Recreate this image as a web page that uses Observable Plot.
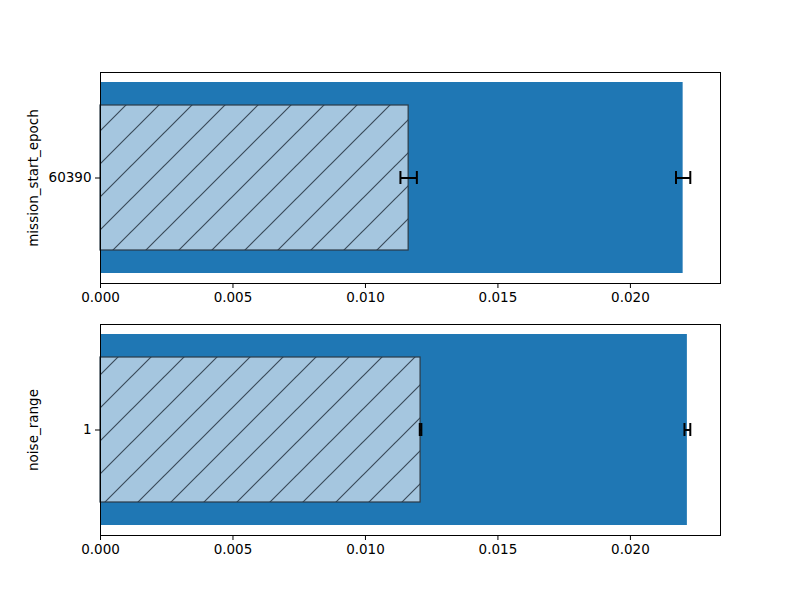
<!DOCTYPE html>
<html>
<head>
<meta charset="utf-8">
<script src="https://cdn.jsdelivr.net/npm/d3@7"></script>
<script src="https://cdn.jsdelivr.net/npm/@observablehq/plot@0.6"></script>
<style>
  html, body { margin: 0; padding: 0; background: white; }
  #chart { width: 800px; height: 600px; }
  #chart svg { display: block; overflow: visible; }
  #chart svg text { font-size: 13.5px; font-family: "DejaVu Sans", sans-serif; }
</style>
</head>
<body>
<div id="chart"></div>
<script>
// Panel labels and categories
const panelLabels = ["mission_start_epoch", "noise_range"];
const panelCategories = ["60390", "1"];
// Solid (dark blue) bar values and errors
const solidValues = [0.02199, 0.02215];
const solidErrors = [0.00027, 0.00011];
// Hatched (light) bar values and errors
const hatchValues = [0.01163, 0.01208];
const hatchErrors = [0.00031, 0.00003];
// X tick values
const xTicks = [0, 0.005, 0.010, 0.015, 0.020];
const xDomain = [0, 0.02340];

const container = document.getElementById("chart");
const fontFamily = "DejaVu Sans, sans-serif";

const panelLayout = [
  {height: 310, top: 72, bottom: 27},
  {height: 290, top: 14, bottom: 65}
];

panelLabels.forEach((label, i) => {
  const cat = panelCategories[i];
  const solid = [{cat, v: solidValues[i], e: solidErrors[i]}];
  const hatch = [{cat, v: hatchValues[i], e: hatchErrors[i]}];
  const patId = "hatch" + i;
  const capInset = 89;
  const svg = Plot.plot({
    width: 800,
    height: panelLayout[i].height,
    marginTop: panelLayout[i].top,
    marginBottom: panelLayout[i].bottom,
    marginLeft: 100,
    marginRight: 80,
    style: {fontFamily, fontSize: "13.5px", color: "black", background: "white"},
    x: {domain: xDomain, ticks: xTicks, tickFormat: d3.format(".3f")},
    y: {type: "band", domain: [cat], paddingInner: 0, paddingOuter: 0.05},
    marks: [
      Plot.barX(solid, {x: "v", y: "cat", fill: "#1f77b4"}),
      Plot.barX(hatch, {x: "v", y: "cat", fill: "#a5c6df", insetTop: 23, insetBottom: 23}),
      Plot.barX(hatch, {x: "v", y: "cat", fill: `url(#${patId})`, stroke: "#2b3a47", strokeWidth: 1.2, insetTop: 23, insetBottom: 23}),
      // error bars solid
      Plot.link(solid, {x1: d => d.v - d.e, x2: d => d.v + d.e, y1: "cat", y2: "cat", stroke: "black", strokeWidth: 2}),
      Plot.tickX(solid, {x: d => d.v - d.e, y: "cat", stroke: "black", strokeWidth: 2, insetTop: capInset, insetBottom: capInset}),
      Plot.tickX(solid, {x: d => d.v + d.e, y: "cat", stroke: "black", strokeWidth: 2, insetTop: capInset, insetBottom: capInset}),
      // error bars hatched
      Plot.link(hatch, {x1: d => d.v - d.e, x2: d => d.v + d.e, y1: "cat", y2: "cat", stroke: "black", strokeWidth: 2}),
      Plot.tickX(hatch, {x: d => d.v - d.e, y: "cat", stroke: "black", strokeWidth: 2, insetTop: capInset, insetBottom: capInset}),
      Plot.tickX(hatch, {x: d => d.v + d.e, y: "cat", stroke: "black", strokeWidth: 2, insetTop: capInset, insetBottom: capInset}),
      Plot.axisX({ticks: xTicks, tickFormat: d3.format(".3f"), tickSize: 5, tickPadding: 4, label: null}),
      Plot.axisY({tickSize: 5, tickPadding: 4, label, labelAnchor: "center", labelOffset: 72, labelArrow: "none"}),
      Plot.frame({stroke: "black", strokeWidth: 1})
    ]
  });
  // add hatch pattern definition
  const sel = d3.select(svg);
  const defs = sel.insert("defs", ":first-child");
  const s = 33;
  const pat = defs.append("pattern")
    .attr("id", patId)
    .attr("patternUnits", "userSpaceOnUse")
    .attr("width", s).attr("height", s);
  pat.append("path")
    .attr("d", `M-2,2 L2,-2 M0,${s} L${s},0 M${s-2},${s+2} L${s+2},${s-2}`)
    .attr("stroke", "#3a4b5a")
    .attr("stroke-width", 1.2)
    .attr("fill", "none");
  container.appendChild(svg);
});
</script>
</body>
</html>
